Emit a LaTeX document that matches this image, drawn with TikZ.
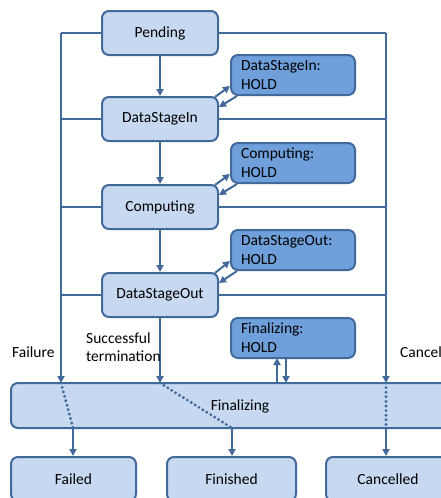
\documentclass[tikz,border=0pt]{standalone}
\usepackage{fontspec}
\setmainfont{Carlito}
\usetikzlibrary{arrows.meta}
\definecolor{edge}{HTML}{41699A}
\definecolor{light}{HTML}{C6D9F1}
\definecolor{dark}{HTML}{6FA0DB}
\begin{document}
\begin{tikzpicture}[x=1pt,y=-1pt,
  every node/.style={font=\fontsize{15.5}{19}\selectfont, text=black},
  state/.style={draw=edge, line width=2pt, fill=light, rounded corners=7pt,
    minimum width=116pt, minimum height=44pt, inner sep=0pt},
  hold/.style={draw=edge, line width=2pt, fill=dark, rounded corners=7pt,
    minimum width=124pt, minimum height=40pt, inner sep=0pt, align=left,
    text width=104pt},
  flow/.style={draw=edge, line width=2pt},
  arr/.style={flow, -{Triangle[length=7pt,width=7pt]}},
  dot/.style={draw=edge, line width=3.2pt, dash pattern=on 0pt off 4.6pt, line cap=round},
  lbl/.style={align=left, anchor=west, inner sep=0pt}]
\useasboundingbox (0,0) rectangle (441,498);
\begin{scope}
\clip (0,0) rectangle (441,498);

% main chain
\node[state] (pending) at (160,33) {Pending};
\node[state] (dsi) at (160,119) {DataStageIn};
\node[state] (comp) at (160,207) {Computing};
\node[state] (dso) at (160,295) {DataStageOut};

% hold states
\node[hold] (h1) at (293,75) {DataStageIn:\\HOLD};
\node[hold] (h2) at (293,163) {Computing:\\HOLD};
\node[hold] (h3) at (293,250) {DataStageOut:\\HOLD};
\node[hold] (h4) at (293,338) {Finalizing:\\HOLD};

% finalizing bar and end states
\node[state, minimum width=470pt, minimum height=45pt] (fin) at (246,405.5) {};
\node at (240,406) {Finalizing};
\node[state, minimum width=125pt] (failed) at (73.5,479) {Failed};
\node[state, minimum width=129pt] (finished) at (231.5,479) {Finished};
\node[state, minimum width=124pt] (cancelled) at (388,479) {Cancelled};

% side rails
\coordinate (lt) at (61,33);
\coordinate (rt) at (386,33);
\coordinate (lb) at (61,383);
\coordinate (rb) at (386,383);
\coordinate (cb) at (160,383);
\coordinate (lo) at (73,428);
\coordinate (co) at (232,428);
\coordinate (ro) at (386,428);

\draw[flow] (pending.west) -- (lt);
\draw[flow] (pending.east) -- (rt);
\draw[arr] (lt) -- (lb);
\draw[arr] (rt) -- (rb);
\foreach \n in {dsi,comp,dso}{
  \draw[flow] (\n.west) -- (\n.west -| lt);
  \draw[flow] (\n.east) -- (\n.east -| rt);
}

% forward transitions
\draw[arr] (pending) -- (dsi);
\draw[arr] (dsi) -- (comp);
\draw[arr] (comp) -- (dso);
\draw[arr] (dso) -- (cb);

% hold transitions
\foreach \s/\h in {dsi/h1,comp/h2,dso/h3}{
  \draw[arr] ([xshift=-4pt,yshift=-1pt]\s.north east) -- ([yshift=10pt]\h.south west);
  \draw[arr] ([xshift=7pt]\h.south west) -- ([yshift=-11pt]\s.north east);
}
\draw[arr] (277,383) -- (277,358);
\draw[arr] (286,358) -- (286,383);

% paths through finalizing
\draw[dot] (lb) -- (lo);
\draw[dot] (cb) -- (co);
\draw[dot] (rb) -- (ro);
\draw[arr] (lo) -- (lo |- failed.north);
\draw[arr] (co) -- (co |- finished.north);
\draw[arr] (ro) -- (ro |- cancelled.north);

% labels
\node[lbl] (lfail) at (12,352) {Failure};
\node[lbl] (lsucc) at (86,347.5) {Successful\\[-1pt]termination};
\node[lbl] (lcanc) at (400,352) {Cancel};
\end{scope}
\end{tikzpicture}
\end{document}
